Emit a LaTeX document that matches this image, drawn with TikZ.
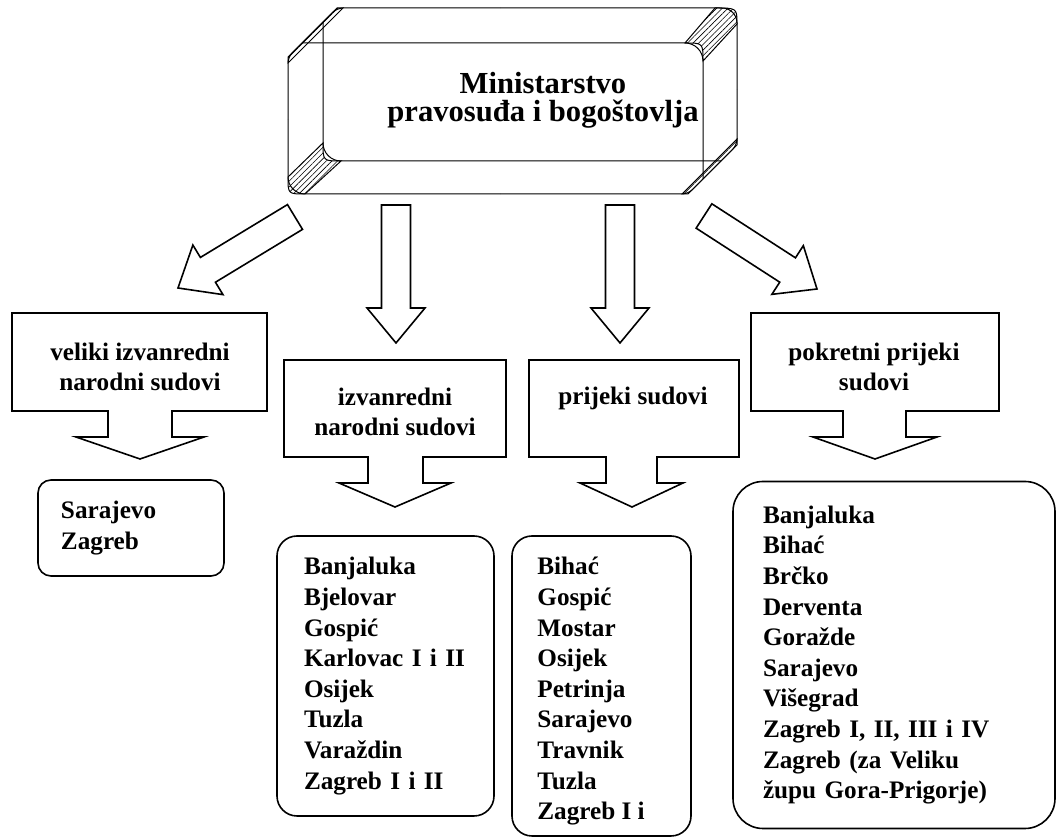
\documentclass[tikz,border=0pt]{standalone}
\usepackage{fontspec}
\setmainfont{Liberation Serif}
\usetikzlibrary{calc,patterns.meta}

\tikzset{
  topline/.style={draw, line width=0.5pt},
  box/.style={draw, line width=0.8pt, line join=miter},
  capt/.style={font=\fontsize{12.6}{15.3}\selectfont\bfseries, align=center, inner sep=0pt},
  listbox/.style={draw, line width=0.8pt, rounded corners=10pt, inner ysep=0pt,
    align=left, font=\fontsize{12.6}{15.3}\selectfont\bfseries},
  listtext/.style={inner sep=0pt, align=left, font=\fontsize{12.6}{15.3}\selectfont\bfseries},
  fat/.style={draw, line width=0.8pt, line join=miter, fill=white},
  hatch/.style={pattern={Lines[angle=45,distance=2pt,line width=0.3pt]}},
}

% fat block arrow from tail (#1) to tip (#2)
\newcommand\fatarrow[2]{%
  \coordinate (hb) at ($(#2)!17.5pt!(#1)$);
  \draw[fat] ($(#1)!7.25pt!90:(#2)$) -- ($(hb)!7.25pt!90:(#2)$)
    -- ($(hb)!14.5pt!90:(#2)$) -- (#2) -- ($(hb)!14.5pt!-90:(#2)$)
    -- ($(hb)!7.25pt!-90:(#2)$) -- ($(#1)!7.25pt!-90:(#2)$) -- cycle;}

\begin{document}
\begin{tikzpicture}[x=0.5pt, y=-0.5pt]
\useasboundingbox (0,0) rectangle (1057,838);

% the ministry, a bevelled box
\draw[topline, rounded corners=3pt] (288,120) -- (288,57) -- (337,8) -- (500,8);
\draw[topline, rounded corners=7.5pt] (500,8) -- (737,8) -- (737,90);
\draw[topline, rounded corners=3pt] (737,90) -- (737,145) -- (688,194) -- (500,194);
\draw[topline, rounded corners=8.5pt] (500,194) -- (288,194) -- (288,120);
\draw[topline, rounded corners=9pt] (302,43) -- (703,43) -- (703,179);
\draw[topline, rounded corners=9pt] (323,22) -- (323,161) -- (721,161);
% hatched corners
\draw[topline, hatch] (288,57) -- (337,8) -- (343,8) -- (288,63) -- cycle;
\draw[topline, hatch] (685,43) -- (715,8) .. controls (737,8) .. (737,24)
  -- (703,61) .. controls (703,43) .. (685,43) -- cycle;
\draw[topline, hatch] (323,143) .. controls (323,161) .. (341,161)
  -- (305,194) .. controls (288,194) .. (288,177) -- cycle;
\draw[topline, hatch] (737,145) -- (688,194) -- (682,194) -- (737,139) -- cycle;
\node[capt, font=\fontsize{15.3}{14}\selectfont\bfseries] (minis) at (543,100)
  {Ministarstvo\\pravosuđa i bogoštovlja};

% arrows out of the ministry
\coordinate (a1t) at (295,217);
\coordinate (a1h) at (178,288);
\coordinate (a2t) at (396,205);
\coordinate (a2h) at (396,343);
\coordinate (a3t) at (620,205);
\coordinate (a3h) at (620,343);
\coordinate (a4t) at (704,216);
\coordinate (a4h) at (817,289);
\fatarrow{a1t}{a1h}
\fatarrow{a2t}{a2h}
\fatarrow{a3t}{a3h}
\fatarrow{a4t}{a4h}

% kinds of courts
\draw[box] (12,313) -- (267,313) -- (267,411) -- (172,411) -- (172,437) -- (204,437)
  -- (140,459) -- (76,437) -- (108,437) -- (108,411) -- (12,411) -- cycle;
\node[capt] (c1) at (140,367) {veliki izvanredni\\narodni sudovi};
\draw[box] (284,360) -- (506,360) -- (506,457) -- (423,457) -- (423,483) -- (451,483)
  -- (395,507) -- (339,483) -- (368,483) -- (368,457) -- (284,457) -- cycle;
\node[capt] (c2) at (395,412) {izvanredni\\narodni sudovi};
\draw[box] (529,360) -- (739,360) -- (739,457) -- (657,457) -- (657,483) -- (683,483)
  -- (632,507) -- (580,483) -- (606,483) -- (606,457) -- (529,457) -- cycle;
\node[capt] (c3) at (633,398) {prijeki sudovi};
\draw[box] (751,313) -- (999,313) -- (999,411) -- (906,411) -- (906,437) -- (937,437)
  -- (875,459) -- (813,437) -- (843,437) -- (843,411) -- (751,411) -- cycle;
\node[capt] (c4) at (874,367) {pokretni prijeki\\sudovi};

% seats of the courts
\node[listbox, rounded corners=6.5pt, minimum width=93pt, minimum height=48pt,
  text width=70pt, inner xsep=11.5pt] (l1) at (131,528) {Sarajevo\\Zagreb};
\node[listbox, minimum width=108.5pt, minimum height=140pt,
  text width=81.5pt, inner xsep=13.5pt] (l2) at (385.5,676)
  {Banjaluka\\Bjelovar\\Gospić\\Karlovac I i II\\Osijek\\Tuzla\\Varaždin\\Zagreb I i II};
\node[listbox, minimum width=89.5pt, minimum height=150pt] (l3) at (601.5,686) {};
\node[listtext, anchor=north west] (l3t) at (537,557)
  {Bihać\\Gospić\\Mostar\\Osijek\\Petrinja\\Sarajevo\\Travnik\\Tuzla\\Zagreb I i};
\node[listbox, rounded corners=15pt, minimum width=161pt, minimum height=173.5pt,
  text width=131pt, inner xsep=15pt] (l4) at (894,655)
  {Banjaluka\\Bihać\\Brčko\\Derventa\\Goražde\\Sarajevo\\Višegrad\\Zagreb I, II, III i IV\\Zagreb (za Veliku\\župu Gora-Prigorje)};
\end{tikzpicture}
\end{document}
